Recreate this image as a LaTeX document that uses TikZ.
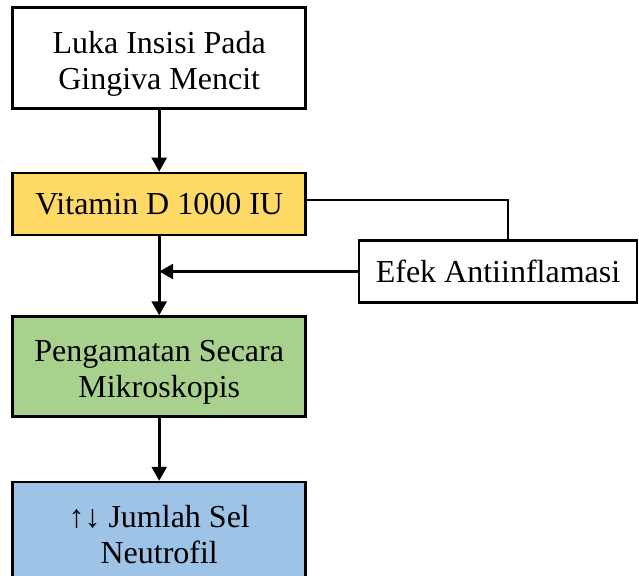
\documentclass[tikz,border=0pt]{standalone}
\usepackage{fontspec}
\setmainfont{Liberation Serif}
\usetikzlibrary{arrows.meta}
\definecolor{cyellow}{HTML}{FFD966}
\definecolor{cgreen}{HTML}{A9D18E}
\definecolor{cblue}{HTML}{9DC3E6}
\newcommand{\twolines}[2]{\raisebox{-6pt}[\height][\depth]{\begin{tabular}{@{}c@{}}#1\\#2\end{tabular}}}
\begin{document}
\begin{tikzpicture}[x=1pt,y=-1pt,
  box/.style={draw=black,line width=2.5pt,rectangle,minimum width=293pt,align=center,inner sep=0pt,font=\fontsize{32}{36}\selectfont},
  arr/.style={line width=2.6pt,-{Triangle[width=15pt,length=14pt]}},
  connline/.style={line width=2.6pt}]
\useasboundingbox (0,0) rectangle (639,575);
\node[box,fill=white,minimum height=101pt] (b1) at (159.2,58.2) {\twolines{Luka Insisi Pada}{Gingiva Mencit}};
\node[box,fill=cyellow,minimum height=62pt] (b2) at (159.2,203.9) {Vitamin D 1000 IU};
\node[box,fill=cgreen,minimum height=100pt] (b3) at (159.2,366.5) {\twolines{Pengamatan Secara}{Mikroskopis}};
\node[box,fill=cblue,minimum height=101pt] (b4) at (159.2,532.5) {\twolines{↑↓ Jumlah Sel}{Neutrofil}};
\node[box,fill=white,minimum width=278pt,minimum height=62pt] (ef) at (498,271.5) {Efek Antiinflamasi};
\draw[arr] (b1) -- (b2);
\draw[arr] (b2) -- (b3);
\draw[arr] (b3) -- (b4);
\draw[connline] ([yshift=4pt]b2.east) -| ([xshift=10pt]ef.north);
\draw[arr] (ef.west) -- (b2.south |- ef.west);
\end{tikzpicture}
\end{document}
